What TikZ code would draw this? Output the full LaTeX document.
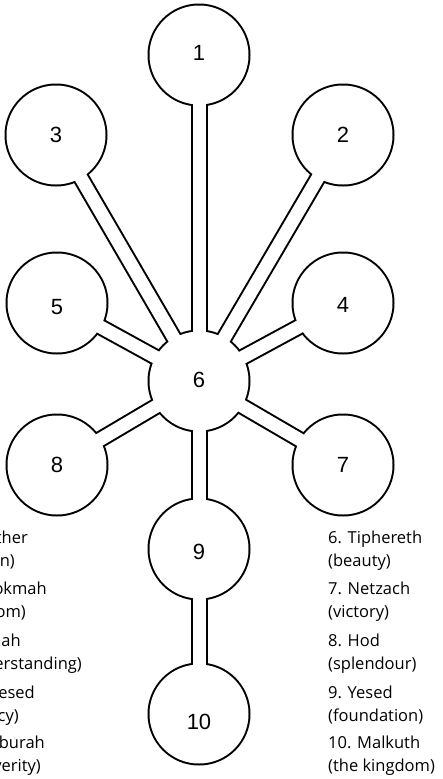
\documentclass[tikz,border=0pt]{standalone}
\usepackage{fontspec}
\setmainfont{Open Sans}
\newfontfamily\numfont{Liberation Sans}
\begin{document}
\begin{tikzpicture}[x=1pt,y=-1pt,
  num/.style={inner sep=0pt,font=\numfont\fontsize{22}{22}\selectfont},
  legR/.style={anchor=base west,inner sep=0pt,font=\fontsize{16.5}{16.5}\selectfont},
  legL/.style={anchor=base east,inner sep=0pt,font=\fontsize{16.5}{16.5}\selectfont},
  outerpath/.style={line width=17pt},
  innerpath/.style={white,line width=13pt}]
\useasboundingbox (0,0) rectangle (443,779);
\clip (0,0) rectangle (443,779);
% centres
\coordinate (c1) at (199,55);
\coordinate (c2) at (343,135);
\coordinate (c3) at (56,135);
\coordinate (c4) at (343,303);
\coordinate (c5) at (57,303);
\coordinate (c6) at (199,381);
\coordinate (c7) at (343,465);
\coordinate (c8) at (57,465);
\coordinate (c9) at (199,549);
\coordinate (c10) at (199,714);
% black layer
\foreach \a/\b in {c1/c6,c2/c6,c3/c6,c4/c6,c5/c6,c7/c6,c8/c6,c6/c9,c9/c10}
  \draw[outerpath] (\a) -- (\b);
\foreach \n in {c1,c2,c3,c4,c5,c6,c7,c8,c9,c10}
  \fill (\n) circle (51.5pt);
% white layer
\foreach \a/\b in {c1/c6,c2/c6,c3/c6,c4/c6,c5/c6,c7/c6,c8/c6,c6/c9,c9/c10}
  \draw[innerpath] (\a) -- (\b);
\foreach \n in {c1,c2,c3,c4,c5,c6,c7,c8,c9,c10}
  \fill[white] (\n) circle (49.5pt);
% numbers
\node[num] (n1) at (199,53) {1};
\node[num] (n2) at (343,135) {2};
\node[num] (n3) at (56,135) {3};
\node[num] (n4) at (343,305) {4};
\node[num] (n5) at (57,307) {5};
\node[num] (n6) at (199,380) {6};
\node[num] (n7) at (343,465) {7};
\node[num] (n8) at (57,465) {8};
\node[num] (n9) at (199,552) {9};
\node[num] (n10) at (199,722) {10};
% left legend (cut off by the page edge, as in the reference)
\node[legL] (l1a) at (28,543) {1. Kether};
\node[legL] (l1b) at (15,566) {(crown)};
\node[legL] (l2a) at (47,594) {2. Chokmah};
\node[legL] (l2b) at (26,617) {(wisdom)};
\node[legL] (l3a) at (21,646) {3. Binah};
\node[legL] (l3b) at (82,669) {(understanding)};
\node[legL] (l4a) at (35,698) {4. Chesed};
\node[legL] (l4b) at (19,721) {(mercy)};
\node[legL] (l5a) at (45,748) {5. Geburah};
\node[legL] (l5b) at (41,771) {(severity)};
% right legend
\node[legR] (r6a) at (328,543) {6. Tiphereth};
\node[legR] (r6b) at (328,566) {(beauty)};
\node[legR] (r7a) at (328,594) {7. Netzach};
\node[legR] (r7b) at (328,617) {(victory)};
\node[legR] (r8a) at (328,646) {8. Hod};
\node[legR] (r8b) at (328,669) {(splendour)};
\node[legR] (r9a) at (328,698) {9. Yesed};
\node[legR] (r9b) at (328,721) {(foundation)};
\node[legR] (r10a) at (328,748) {10. Malkuth};
\node[legR] (r10b) at (328,771) {(the kingdom)};
\end{tikzpicture}
\end{document}
